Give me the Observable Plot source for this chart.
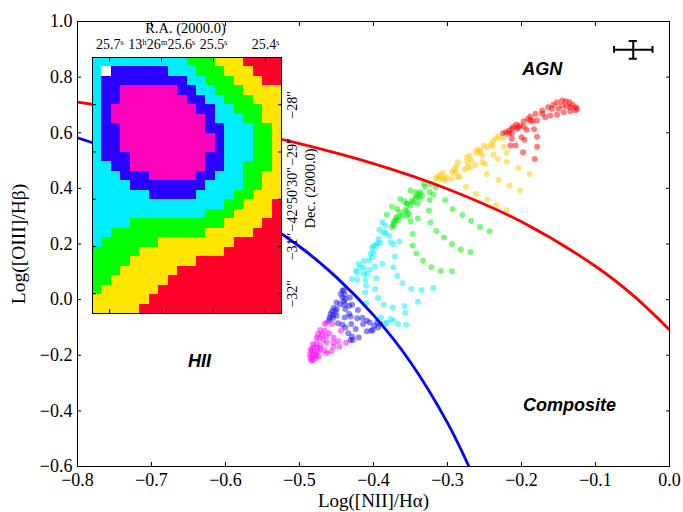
<!DOCTYPE html>
<html>
<head>
<meta charset="utf-8">
<style>
html,body{margin:0;padding:0;background:#fff}
#wrap{position:relative;width:683px;height:512px;overflow:hidden}
#wrap svg{position:absolute;left:0;top:0;background:transparent}
</style>
<script src="https://cdn.jsdelivr.net/npm/d3@7"></script>
<script src="https://cdn.jsdelivr.net/npm/@observablehq/plot@0.6"></script>
</head>
<body>
<div id="wrap"></div>
<script>
const xTicks = [-0.8,-0.7,-0.6,-0.5,-0.4,-0.3,-0.2,-0.1,0];
const yTicks = [-0.6,-0.4,-0.2,0,0.2,0.4,0.6,0.8,1.0];
const redLineX = [-0.8,-0.7,-0.6,-0.5,-0.4,-0.3,-0.2,-0.1,-0.05,0];
const redLineY = [0.71,0.669,0.62,0.561,0.489,0.398,0.28,0.12,0.017,-0.108];
const blueLineX = [-0.8,-0.7,-0.6,-0.5,-0.45,-0.4,-0.35,-0.3,-0.271];
const blueLineY = [0.582,0.487,0.362,0.191,0.08,-0.056,-0.225,-0.443,-0.6];
const magentaPts = [[-.484,-.220],[-.485,-.210],[-.482,-.217],[-.478,-.210],[-.486,-.198],[-.482,-.200],[-.478,-.198],[-.474,-.205],[-.484,-.186],[-.480,-.186],[-.475,-.188],[-.485,-.178],[-.481,-.172],[-.476,-.172],[-.472,-.178],[-.482,-.160],[-.477,-.157],[-.472,-.166],[-.466,-.184],[-.463,-.193],[-.457,-.186],[-.477,-.138],[-.473,-.136],[-.468,-.145],[-.463,-.154],[-.454,-.154],[-.448,-.150],[-.475,-.124],[-.469,-.126],[-.464,-.133],[-.454,-.169],[-.446,-.169],[-.437,-.155],[-.472,-.109],[-.466,-.112],[-.460,-.121],[-.466,-.088],[-.463,-.082],[-.456,-.088],[-.444,-.112],[-.454,-.136]];
const bluePts = [[-.442,.032],[-.440,.035],[-.444,.020],[-.439,.018],[-.442,.008],[-.438,.002],[-.432,.008],[-.440,-.006],[-.450,-.010],[-.445,-.016],[-.439,-.018],[-.433,-.022],[-.429,-.018],[-.454,-.030],[-.450,-.034],[-.456,-.042],[-.451,-.042],[-.458,-.052],[-.454,-.054],[-.459,-.064],[-.455,-.066],[-.450,-.058],[-.460,-.073],[-.438,-.034],[-.433,-.052],[-.439,-.064],[-.431,-.061],[-.421,-.037],[-.422,-.067],[-.415,-.066],[-.409,-.076],[-.448,-.085],[-.442,-.090],[-.438,-.100],[-.430,-.088],[-.424,-.106],[-.434,-.121],[-.429,-.133],[-.420,-.136],[-.431,-.145],[-.428,-.145],[-.414,-.088],[-.405,-.082],[-.399,-.094],[-.409,-.114],[-.403,-.112],[-.401,-.109],[-.395,-.082],[-.391,-.088],[-.394,-.100]];
const cyanPts = [[-.388,.278],[-.384,.266],[-.392,.251],[-.386,.242],[-.379,.230],[-.384,.239],[-.393,.218],[-.395,.203],[-.391,.203],[-.400,.194],[-.397,.194],[-.402,.186],[-.377,.206],[-.373,.198],[-.365,.209],[-.400,.170],[-.404,.164],[-.402,.152],[-.413,.140],[-.406,.140],[-.388,.128],[-.398,.119],[-.420,.128],[-.418,.116],[-.413,.113],[-.424,.104],[-.422,.098],[-.405,.107],[-.413,.092],[-.409,.092],[-.396,.077],[-.373,.116],[-.368,.086],[-.371,.155],[-.429,.074],[-.422,.071],[-.411,.071],[-.410,.050],[-.411,.026],[-.361,.059],[-.398,.038],[-.349,.038],[-.335,.035],[-.319,.042],[-.394,.006],[-.340,-.008],[-.410,-.013],[-.386,-.018],[-.374,-.028],[-.358,-.023],[-.357,-.047],[-.390,-.064],[-.377,-.070],[-.382,-.082],[-.384,-.086],[-.367,-.088],[-.356,-.090],[-.373,-.076]];
const greenPts = [[-.375,.260],[-.373,.266],[-.373,.274],[-.372,.282],[-.370,.286],[-.369,.296],[-.366,.298],[-.367,.284],[-.364,.314],[-.361,.302],[-.357,.322],[-.355,.318],[-.352,.308],[-.350,.282],[-.355,.302],[-.382,.306],[-.375,.334],[-.368,.326],[-.364,.362],[-.358,.354],[-.354,.346],[-.350,.338],[-.348,.356],[-.355,.344],[-.346,.350],[-.343,.366],[-.341,.370],[-.339,.380],[-.337,.386],[-.337,.366],[-.340,.346],[-.334,.374],[-.350,.392],[-.343,.386],[-.332,.416],[-.330,.406],[-.323,.416],[-.316,.404],[-.324,.386],[-.319,.378],[-.324,.358],[-.340,.292],[-.325,.320],[-.323,.277],[-.303,.358],[-.293,.326],[-.280,.304],[-.268,.283],[-.256,.261],[-.243,.246],[-.315,.247],[-.305,.223],[-.294,.200],[-.282,.180],[-.269,.171],[-.347,.236],[-.347,.195],[-.342,.166],[-.333,.140],[-.322,.116],[-.309,.103],[-.294,.102]];
const yellowPts = [[-.316,.436],[-.313,.443],[-.310,.436],[-.306,.428],[-.303,.434],[-.310,.448],[-.306,.456],[-.302,.440],[-.295,.434],[-.294,.458],[-.291,.468],[-.288,.480],[-.286,.494],[-.289,.460],[-.286,.443],[-.284,.440],[-.277,.468],[-.273,.494],[-.274,.512],[-.270,.518],[-.268,.500],[-.273,.476],[-.269,.476],[-.262,.484],[-.249,.488],[-.253,.494],[-.253,.518],[-.261,.536],[-.257,.540],[-.260,.527],[-.256,.532],[-.251,.554],[-.246,.548],[-.241,.560],[-.238,.572],[-.234,.580],[-.231,.588],[-.239,.552],[-.238,.522],[-.232,.506],[-.220,.496],[-.220,.527],[-.224,.550],[-.225,.580],[-.247,.452],[-.231,.430],[-.204,.473],[-.189,.452],[-.216,.410],[-.202,.392],[-.275,.406],[-.261,.380],[-.246,.360],[-.234,.340],[-.220,.322]];
const redPts = [[-.225,.598],[-.221,.602],[-.217,.608],[-.213,.614],[-.211,.622],[-.207,.629],[-.204,.620],[-.202,.626],[-.197,.641],[-.191,.650],[-.188,.658],[-.185,.641],[-.179,.644],[-.181,.668],[-.172,.680],[-.168,.656],[-.164,.692],[-.157,.701],[-.152,.710],[-.145,.716],[-.140,.713],[-.135,.710],[-.131,.701],[-.127,.692],[-.125,.686],[-.127,.680],[-.134,.677],[-.143,.674],[-.152,.665],[-.161,.662],[-.172,.668],[-.188,.644],[-.197,.622],[-.206,.614],[-.213,.598],[-.217,.596],[-.193,.611],[-.183,.613],[-.200,.584],[-.196,.575],[-.213,.578],[-.215,.554],[-.208,.554],[-.198,.530],[-.179,.586],[-.179,.550],[-.182,.506],[-.145,.698],[-.139,.694],[-.150,.686],[-.159,.686],[-.134,.692]];
const pointGroups = [
  [magentaPts,"#ff00ff"],[bluePts,"#1c10e8"],[cyanPts,"#00eeff"],
  [greenPts,"#00ee00"],[yellowPts,"#ffc800"],[redPts,"#ff0000"]
];
const errCenterX = -0.049, errCenterY = 0.898, errHalfX = 0.026, errHalfY = 0.032, capX = 0.0055, capY = 0.012;
const regionNames = ["AGN","HII","Composite"];
const regionX = [-0.172,-0.635,-0.135];
const regionY = [0.827,-0.223,-0.378];

const insetRows = [
"33333333334445556666","30222222333444555666","32222222223344455566","32211111122334445555",
"32211111112233444555","32111111111223344455","32111111111123334455","32211111111122333445",
"32211111111112333445","32211111111112333445","32221111111122333445","33221111111122334445",
"33322211111223334455","33332222222233334455","33333322222333344555","33333333333333445556",
"33333333333344455556","33334444444444555566","33444444444455555666","34444445555555566666",
"44444555555555666666","44445555555666666666","44455555566666666666","44555555666666666666",
"45555556666666666666","55555566666666666666","55555666666666666666"];
const insetColors = ["#ffffff","#ff00bb","#2a00ff","#00eeff","#00ff00","#ffe600","#ff002a"];
const raStart = 25.733, raStep = 0.0182, decStart = -27.0, decStep = 0.2007;
const raTicks = [25.7,25.6,25.5,25.4];
const raLabels = ["25.7ˢ","13ʰ26ᵐ25.6ˢ","25.5ˢ","25.4ˢ"];
const decTicks = [-28,-29,-30,-31,-32];
const decLabels = ["−28″","−29″","−42°50′30″","−31″","−32″"];

const serif = "'Liberation Serif','DejaVu Serif',serif";

const mainMarks = [];
for (const [pts,color] of pointGroups) {
  mainMarks.push(Plot.dot(pts,{x:d=>d[0],y:d=>d[1],r:3,fill:color,fillOpacity:0.5,stroke:"none"}));
}
mainMarks.push(
  Plot.line(redLineX.map((x,i)=>[x,redLineY[i]]),{x:d=>d[0],y:d=>d[1],stroke:"#ff0000",strokeWidth:2.8,curve:"catmull-rom",clip:true}),
  Plot.line(blueLineX.map((x,i)=>[x,blueLineY[i]]),{x:d=>d[0],y:d=>d[1],stroke:"#0000ff",strokeWidth:2.8,curve:"catmull-rom",clip:true}),
  Plot.ruleY([errCenterY],{x1:errCenterX-errHalfX,x2:errCenterX+errHalfX,stroke:"#000",strokeWidth:2}),
  Plot.ruleX([errCenterX],{y1:errCenterY-errHalfY,y2:errCenterY+errHalfY,stroke:"#000",strokeWidth:2}),
  Plot.ruleX([errCenterX-errHalfX,errCenterX+errHalfX],{y1:errCenterY-capY,y2:errCenterY+capY,stroke:"#000",strokeWidth:2}),
  Plot.ruleY([errCenterY-errHalfY,errCenterY+errHalfY],{x1:errCenterX-capX,x2:errCenterX+capX,stroke:"#000",strokeWidth:2}),
  Plot.text(regionNames,{x:(d,i)=>regionX[i],y:(d,i)=>regionY[i],text:d=>d,fontFamily:"'Liberation Sans',sans-serif",fontWeight:"bold",fontStyle:"italic",fontSize:18,fill:"#000"}),
  Plot.frame({stroke:"#000",strokeWidth:1}),
  Plot.axisX({anchor:"bottom",ticks:xTicks,tickSize:-4,tickPadding:11,tickFormat:d3.format(".1f"),fontSize:18,label:null}),
  Plot.axisX({anchor:"top",ticks:xTicks,tickSize:-4,tickFormat:()=>"",label:null}),
  Plot.axisY({anchor:"left",ticks:yTicks,tickSize:-4,tickPadding:9,tickFormat:d3.format(".1f"),fontSize:18,label:null}),
  Plot.axisY({anchor:"right",ticks:yTicks,tickSize:-4,tickFormat:()=>"",label:null}),
  Plot.text(["Log([NII]/Hα)"],{x:()=>-0.4,frameAnchor:"bottom",textAnchor:"middle",lineAnchor:"middle",dy:34,fontSize:19,fill:"#000"}),
  Plot.text(["Log([OIII]/Hβ)"],{y:()=>0.2,frameAnchor:"left",textAnchor:"middle",lineAnchor:"middle",dx:-59,rotate:-90,fontSize:19.5,fill:"#000"})
);

const mainChart = Plot.plot({
  width:683,height:512,
  marginLeft:77,marginRight:14,marginTop:21,marginBottom:46,
  style:{fontFamily:serif,color:"#000",background:"transparent"},
  x:{domain:[-0.8,0]},
  y:{domain:[-0.6,1.0]},
  marks:mainMarks
});

const insetCells = insetRows.flatMap((row,r)=>Array.from(row,(c,i)=>({
  x1:raStart-i*raStep,x2:raStart-(i+1)*raStep,
  y1:decStart-r*decStep,y2:decStart-(r+1)*decStep,
  fill:insetColors[+c]
})));

const insetChart = Plot.plot({
  width:683,height:512,
  marginLeft:92,marginRight:402,marginTop:57,marginBottom:199,
  style:{fontFamily:serif,color:"#000",background:"transparent"},
  x:{domain:[raStart,raStart-20*raStep]},
  y:{domain:[decStart-27*decStep,decStart]},
  marks:[
    Plot.rect(insetCells,{x1:"x1",x2:"x2",y1:"y1",y2:"y2",fill:"fill",shapeRendering:"crispEdges"}),
    Plot.frame({stroke:"#000",strokeWidth:1}),
    Plot.axisX({anchor:"bottom",ticks:raTicks,tickSize:-4,tickFormat:()=>"",label:null}),
    Plot.axisX({anchor:"top",ticks:raTicks,tickSize:-4,tickPadding:13,tickFormat:(d,i)=>raLabels[i],fontSize:14,label:null}),
    Plot.axisY({anchor:"left",ticks:decTicks,tickSize:-4,tickFormat:()=>"",label:null}),
    Plot.axisY({anchor:"right",ticks:decTicks,tickSize:-4,tickFormat:()=>"",label:null}),
    Plot.text(["R.A. (2000.0)"],{x:()=>25.554,frameAnchor:"top",textAnchor:"middle",lineAnchor:"middle",dy:-29,fontSize:14.5,fill:"#000"}),
    Plot.text(decLabels,{y:(d,i)=>decTicks[i],text:d=>d,frameAnchor:"right",textAnchor:"middle",lineAnchor:"middle",dx:11,rotate:-90,fontSize:14,fill:"#000"}),
    Plot.text(["Dec. (2000.0)"],{y:()=>-29.77,frameAnchor:"right",textAnchor:"middle",lineAnchor:"middle",dx:29,rotate:-90,fontSize:14.5,fill:"#000"})
  ]
});

const wrap = document.getElementById("wrap");
wrap.append(mainChart,insetChart);
</script>
</body>
</html>
